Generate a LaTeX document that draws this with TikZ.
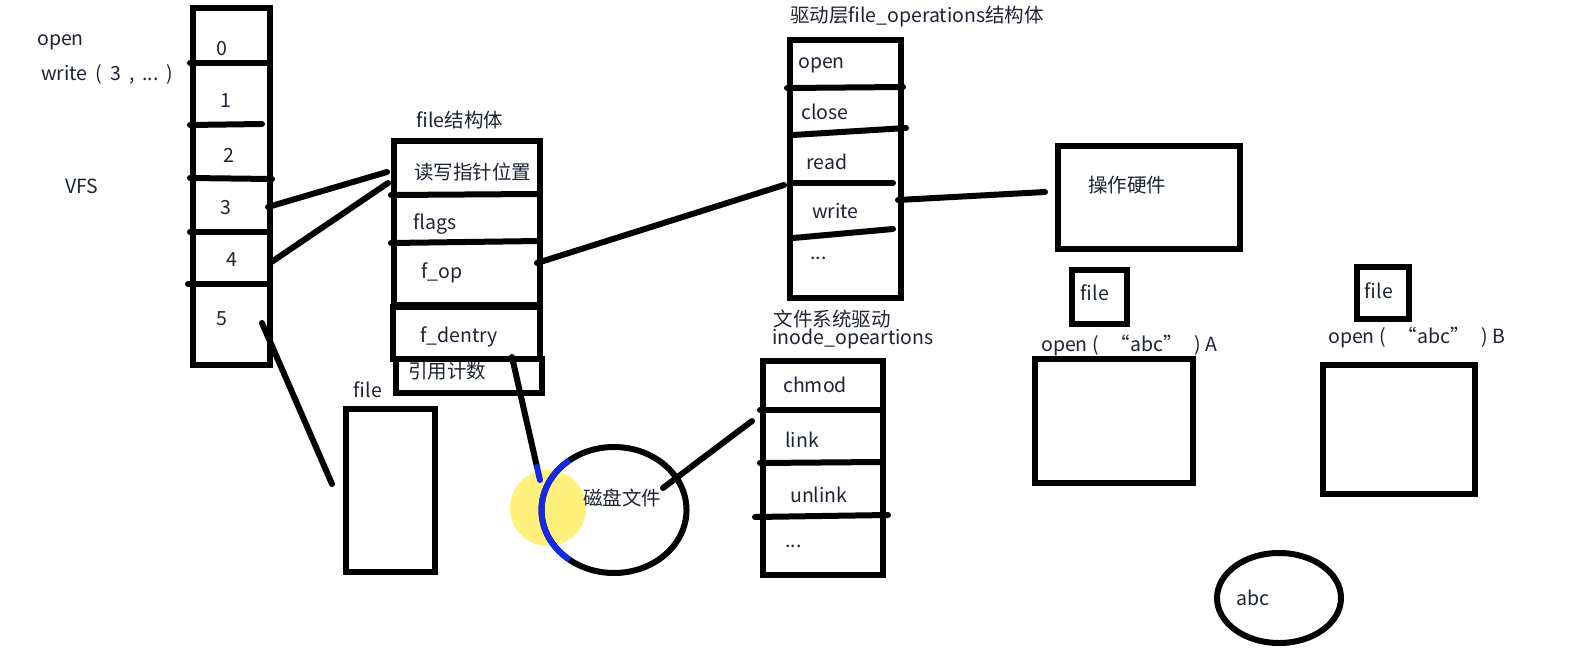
\documentclass[tikz,border=0pt]{standalone}
\usepackage{fontspec}
\setmainfont{Noto Sans CJK SC}
\usetikzlibrary{shapes.geometric}
\definecolor{txt}{RGB}{30,35,50}
\definecolor{hl}{RGB}{255,238,90}
\definecolor{cur}{RGB}{20,40,230}
\begin{document}
\begin{tikzpicture}[x=1pt,y=-1pt]
\tikzset{
 box/.style={draw=black, line width=6pt, inner sep=0pt, anchor=north west},
 lbl/.style={font=\fontsize{19.5}{21}\selectfont, text=txt, inner sep=0pt},
 wl/.style={lbl, anchor=west},
 wire/.style={line width=6pt, line cap=round},
}
\useasboundingbox[fill=white] (0,0) rectangle (1576,656);

% left texts
\node[wl] (topen) at (37,42) {open};
\node[wl] (twrite) at (41,74) {write\hspace{8pt}(\hspace{8pt}3\hspace{8pt},\hspace{8pt}...\hspace{8pt})};
\node[wl] (tvfs) at (65,186) {VFS};

% VFS array
\node[box, minimum width=77pt, minimum height=357pt] (vfs) at (190,5) {};
\draw[wire] (190,63) -- (267,63);
\draw[wire] (190,125) -- (262,124);
\draw[wire] (190,178) -- (272,179);
\draw[wire] (190,232) -- (267,232);
\draw[wire] (188,284) -- (267,284);
\node[lbl] (c0) at (222,49) {0};
\node[lbl] (c1) at (226,101) {1};
\node[lbl] (c2) at (229,155) {2};
\node[lbl] (c3) at (226,208) {3};
\node[lbl] (c4) at (232,260) {4};
\node[lbl] (c5) at (222,319) {5};

% file struct
\node[lbl] (tfs) at (460,120) {file结构体};
\node[box, minimum width=146pt, minimum height=164pt] (fs) at (391,138) {};
\draw[wire] (391,195) -- (537,194);
\draw[wire] (391,243) -- (540,241);
\node[box, minimum width=147pt, minimum height=52pt] (fd) at (390,304) {};
\node[box, minimum width=146pt, minimum height=34pt] (rc) at (393,356) {};
\node[wl] (rw) at (414,172) {读写指针位置};
\node[wl] (flags) at (413,224) {flags};
\node[wl] (fop) at (421,273) {f\_op};
\node[wl] (fdentry) at (420,337) {f\_dentry};
\node[wl] (ref) at (408,371) {引用计数};

% lower file rect
\node[lbl] (tfile) at (368,390) {file};
\node[box, minimum width=89pt, minimum height=163pt] (frect) at (343,406) {};

% file_operations
\node[lbl] (tfops) at (917,17) {驱动层file\_operations结构体};
\node[box, minimum width=111pt, minimum height=258pt] (fops) at (787,37) {};
\draw[wire] (787,88) -- (903,87);
\draw[wire] (793,135) -- (906,128);
\draw[wire] (793,183) -- (893,183);
\draw[wire] (793,238) -- (893,229);
\node[wl] (oopen) at (798,65) {open};
\node[wl] (oclose) at (801,112) {close};
\node[wl] (oread) at (806,162) {read};
\node[wl] (owrite) at (812,211) {write};
\node[wl] (odots) at (810,258) {...};

% hardware
\node[box, minimum width=182pt, minimum height=103pt] (hw) at (1055,143) {};
\node[lbl] (thw) at (1127,185) {操作硬件};

% inode operations
\node[lbl] (tfsd) at (832,319) {文件系统驱动};
\node[lbl] (tino) at (853,339) {inode\_opeartions};
\node[box, minimum width=120pt, minimum height=214pt] (ino) at (760,358) {};
\draw[wire] (760,410) -- (880,410);
\draw[wire] (760,463) -- (880,462);
\draw[wire] (755,517) -- (888,515);
\node[wl] (ichmod) at (783,385) {chmod};
\node[wl] (ilink) at (785,440) {link};
\node[wl] (iunlink) at (790,495) {unlink};
\node[wl] (idots) at (785,546) {...};

% disk file
\fill[hl, opacity=0.8] (548,508) circle (38);
\node[ellipse, draw=black, line width=6pt, minimum width=145pt, minimum height=126pt] (disk) at (614,510) {};
\draw[cur, line width=6pt] ([shift={(614,510)}]128:72.5 and 63) arc[start angle=128, end angle=232, x radius=72.5, y radius=63];
\node[lbl] (tdisk) at (622,498) {磁盘文件};

% A / B
\node[box, minimum width=55pt, minimum height=54pt] (fileA) at (1069,267) {};
\node[lbl] (tfileA) at (1095,293) {file};
\node[wl] (openA) at (1041,345) {open (\hspace{12pt}“abc”\hspace{12pt}) A};
\node[box, minimum width=158pt, minimum height=124pt] (boxA) at (1032,356) {};
\node[box, minimum width=52pt, minimum height=52pt] (fileB) at (1354,264) {};
\node[lbl] (tfileB) at (1379,291) {file};
\node[wl] (openB) at (1328,337) {open (\hspace{12pt}“abc”\hspace{12pt}) B};
\node[box, minimum width=152pt, minimum height=129pt] (boxB) at (1320,362) {};
\node[ellipse, draw=black, line width=6pt, minimum width=124pt, minimum height=90pt] (abcE) at (1279,598) {};
\node[lbl] (tabc) at (1253,598) {abc};

% connector endpoints
\coordinate (p3) at (268,207);
\coordinate (p4) at (270,263);
\coordinate (p5) at (262,323);
\coordinate (q3) at (387,172);
\coordinate (q4) at (388,183);
\coordinate (q5) at (332,484);
\coordinate (pop) at (537,263);
\coordinate (prw) at (784,185);
\coordinate (pwr) at (898,200);
\coordinate (phw) at (1045,192);
\coordinate (pde) at (512,357);
\coordinate (pdk) at (540,480);
\coordinate (pdm) at (537,467);
\coordinate (pdt) at (663,488);
\coordinate (pin) at (752,421);

\draw[wire] (p3) -- (q3);
\draw[wire] (p4) -- (q4);
\draw[wire] (p5) -- (q5);
\draw[wire] (pop) -- (prw);
\draw[wire] (pwr) -- (phw);
\draw[wire] (pde) -- (pdm);
\draw[wire, cur] (pdm) -- (pdk);
\draw[wire] (pdt) -- (pin);
\end{tikzpicture}
\end{document}
